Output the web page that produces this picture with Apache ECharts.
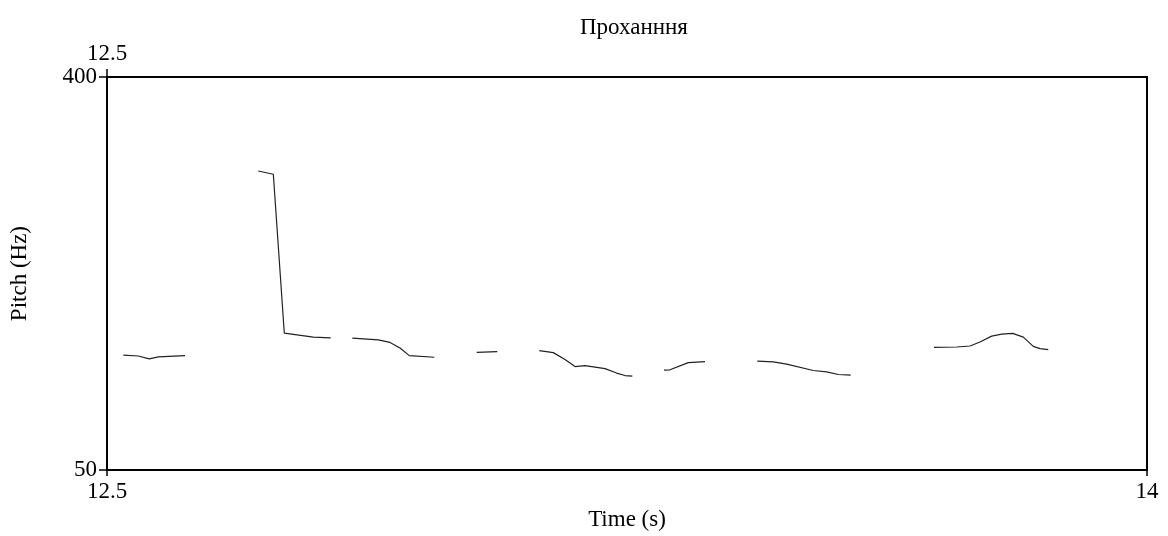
<!DOCTYPE html>
<html>
<head>
<meta charset="utf-8">
<title>Проханння</title>
<script src="https://cdn.jsdelivr.net/npm/echarts@6/dist/echarts.min.js"></script>
<style>
    html, body { margin: 0; padding: 0; background: #fff; }
    #chart { width: 1168px; height: 536px; }
</style>
</head>
<body>
<div id="chart"></div>
<script>
// 数据：时间(s) 与 基频(Hz)，null 表示断开（无声段）
var times = [
    12.5235, 12.5451, 12.5610, 12.5740, 12.6125, 12.64,
    12.7182, 12.7399, 12.7557, 12.7976, 12.8226, 12.84,
    12.8538, 12.8913, 12.9082, 12.9226, 12.9360, 12.9721, 13.00,
    13.0332, 13.0629, 13.09,
    13.1235, 13.1437, 13.1606, 13.1750, 13.1894, 13.2183, 13.2351, 13.2471, 13.2577, 13.28,
    13.3034, 13.3120, 13.3384, 13.3625, 13.40,
    13.4379, 13.4610, 13.4803, 13.5187, 13.5380, 13.5548, 13.5726, 13.62,
    13.6928, 13.7255, 13.7447, 13.7591, 13.7760, 13.7904, 13.8063, 13.8216, 13.8360, 13.8457, 13.8576
];
var pitch = [
    152.3, 151.6, 149.0, 150.8, 151.9, null,
    316.3, 313.4, 172.0, 168.4, 167.8, null,
    167.5, 166.0, 163.7, 158.7, 151.9, 150.5, null,
    154.9, 155.4, null,
    156.3, 154.6, 148.4, 142.2, 143.1, 140.4, 136.4, 134.2, 133.7, null,
    139.0, 139.3, 145.7, 146.6, null,
    147.0, 146.3, 144.3, 138.7, 137.5, 135.1, 134.6, null,
    159.3, 159.6, 160.5, 164.0, 169.3, 171.1, 171.7, 168.4, 160.2, 158.1, 157.2
];
var xTicks = [12.5, 14];
var xTopTicks = [12.5];
var yTicks = [50, 400];

var FONT = 'Liberation Serif';
var FSIZE = 23;

var seriesData = [];
for (var i = 0; i < times.length; i++) {
    seriesData.push([times[i], pitch[i] === null ? '-' : pitch[i]]);
}

var myChart = echarts.init(document.getElementById('chart'), null, { renderer: 'canvas' });

var option = {
    animation: false,
    backgroundColor: '#fff',
    title: {
        text: 'Проханння',
        left: 575,
        top: 11,
        textStyle: { fontFamily: FONT, fontSize: FSIZE, fontWeight: 'normal', color: '#000' }
    },
    grid: {
        left: 107, right: 21, top: 77, bottom: 63,
        show: true,
        borderColor: '#000',
        borderWidth: 2,
        backgroundColor: 'transparent'
    },
    xAxis: [
        {
            type: 'value',
            min: 12.5, max: 14,
            name: 'Time (s)',
            nameLocation: 'middle',
            nameGap: 34,
            nameTextStyle: { fontFamily: FONT, fontSize: FSIZE, color: '#000' },
            splitLine: { show: false },
            axisLine: { show: false },
            axisTick: { show: true, length: 6, customValues: xTicks, lineStyle: { color: '#000', width: 1.5 } },
            axisLabel: {
                customValues: xTicks, margin: 10,
                fontFamily: FONT, fontSize: FSIZE, color: '#000',
                formatter: function (v) { return String(v); }
            }
        },
        {
            type: 'value',
            position: 'top',
            min: 12.5, max: 14,
            splitLine: { show: false },
            axisLine: { show: false },
            axisTick: { show: true, length: 8, customValues: xTopTicks, lineStyle: { color: '#000', width: 1.5 } },
            axisLabel: {
                customValues: xTopTicks, margin: 12,
                fontFamily: FONT, fontSize: FSIZE, color: '#000',
                formatter: function (v) { return String(v); }
            }
        }
    ],
    yAxis: {
        type: 'value',
        min: 50, max: 400,
        name: 'Pitch (Hz)',
        nameLocation: 'middle',
        nameGap: 76,
        nameTextStyle: { fontFamily: FONT, fontSize: FSIZE, color: '#000' },
        splitLine: { show: false },
        axisLine: { show: false },
        axisTick: { show: true, length: 8, customValues: yTicks, lineStyle: { color: '#000', width: 1.5 } },
        axisLabel: {
            customValues: yTicks, margin: 10,
            fontFamily: FONT, fontSize: FSIZE, color: '#000'
        }
    },
    series: [
        {
            type: 'line',
            xAxisIndex: 0,
            data: seriesData,
            connectNulls: false,
            showSymbol: false,
            symbol: 'none',
            lineStyle: { color: '#222', width: 1.2 }
        }
    ]
};

myChart.setOption(option);
</script>
</body>
</html>
